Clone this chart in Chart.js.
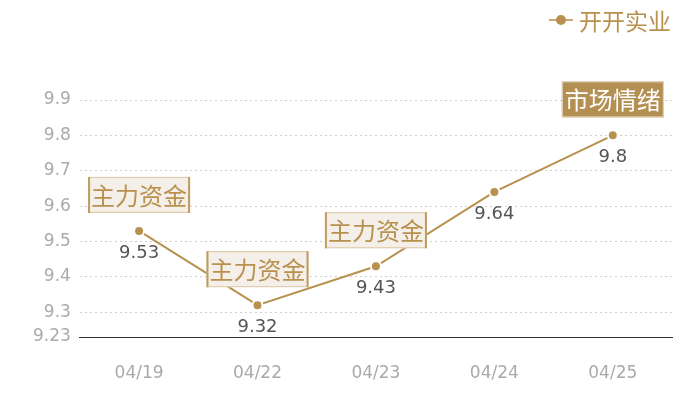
<!DOCTYPE html>
<html>
<head>
<meta charset="utf-8">
<script src="https://cdn.jsdelivr.net/npm/chart.js@4"></script>
<style>
  html, body { margin: 0; padding: 0; background: #fff; }
  #wrap { width: 700px; height: 400px; }
</style>
</head>
<body>
<div id="wrap"><canvas id="chartPrice"></canvas></div>
<script>
// data
const dates = ['04/19', '04/22', '04/23', '04/24', '04/25'];
const prices = [9.53, 9.32, 9.43, 9.64, 9.8];
const tags = ['主力资金', '主力资金', '主力资金', '', '市场情绪'];
const yTicks = [9.23, 9.3, 9.4, 9.5, 9.6, 9.7, 9.8, 9.9];
const seriesName = '开开实业';

const gold = '#b8914f';
const cjk = '"Noto Sans CJK SC", "Noto Sans", sans-serif';
const num = '"DejaVu Sans", "Noto Sans", sans-serif';

// legend in the top right corner + value labels + tag boxes
const labelsPlugin = {
    id: 'pointLabels',
    afterDatasetsDraw(chart) {
        const ctx = chart.ctx;
        const meta = chart.getDatasetMeta(0);
        ctx.save();
        ctx.textAlign = 'center';
        ctx.textBaseline = 'middle';
        meta.data.forEach((pt, i) => {
            // value under the point
            ctx.font = '18px ' + num;
            ctx.fillStyle = '#555';
            ctx.fillText(String(prices[i]), pt.x, pt.y + 22);

            if (!tags[i]) return;
            const w = 102, h = 36;
            const x = pt.x - w / 2;
            const y = pt.y - 36 - h / 2;
            const filled = tags[i] === '市场情绪';
            ctx.fillStyle = filled ? '#b38f52' : '#f4efe8';
            ctx.fillRect(x, y, w, h);
            ctx.lineWidth = 1;
            ctx.strokeStyle = filled ? '#e8dcc6' : '#dcc7a4';
            ctx.strokeRect(x + 0.5, y + 0.5, w - 1, h - 1);
            if (!filled) {
                ctx.strokeStyle = '#c09c62';
                ctx.lineWidth = 2;
                ctx.beginPath();
                ctx.moveTo(x + 1, y);
                ctx.lineTo(x + 1, y + h);
                ctx.moveTo(x + w - 1, y);
                ctx.lineTo(x + w - 1, y + h);
                ctx.stroke();
            }
            ctx.font = '24px ' + cjk;
            ctx.fillStyle = filled ? '#fff' : gold;
            ctx.fillText(tags[i], pt.x, y + h / 2 + 1);
        });

        // legend
        ctx.strokeStyle = '#c9aa78';
        ctx.lineWidth = 2;
        ctx.beginPath();
        ctx.moveTo(549, 20);
        ctx.lineTo(573, 20);
        ctx.stroke();
        ctx.fillStyle = gold;
        ctx.beginPath();
        ctx.arc(561, 20, 5, 0, Math.PI * 2);
        ctx.fill();
        ctx.font = '23px ' + cjk;
        ctx.textAlign = 'left';
        ctx.fillText(seriesName, 579, 21);
        ctx.restore();
    }
};

new Chart(document.getElementById('chartPrice').getContext('2d'), {
    type: 'line',
    data: {
        labels: dates,
        datasets: [{
            label: seriesName,
            data: prices,
            borderColor: gold,
            borderWidth: 2,
            backgroundColor: gold,
            pointBackgroundColor: gold,
            pointBorderColor: '#fff',
            pointBorderWidth: 2,
            pointRadius: 5,
            pointStyle: 'circle',
            tension: 0
        }]
    },
    options: {
        responsive: true,
        maintainAspectRatio: false,
        animation: false,
        layout: {
            padding: { left: 24, right: 28, top: 100, bottom: 0 }
        },
        plugins: {
            legend: { display: false },
            tooltip: { enabled: false }
        },
        scales: {
            x: {
                offset: true,
                grid: { display: false },
                border: { display: true, color: '#333', width: 1 },
                afterFit: function (axis) {
                    axis.height = 63;
                },
                ticks: {
                    color: '#aaa',
                    font: { size: 17, family: num },
                    padding: 18
                }
            },
            y: {
                min: 9.23,
                max: 9.9,
                afterBuildTicks: function (axis) {
                    axis.ticks = yTicks.map(v => ({ value: v }));
                },
                border: { display: false, dash: [2, 3] },
                grid: {
                    drawTicks: false,
                    color: function (context) {
                        return context.index === 0 ? 'rgba(0,0,0,0)' : '#cfcfcf';
                    }
                },
                ticks: {
                    color: '#aaa',
                    font: { size: 17, family: num },
                    padding: 9,
                    callback: function (value) {
                        return String(value);
                    }
                }
            }
        }
    },
    plugins: [labelsPlugin]
});
</script>
</body>
</html>
